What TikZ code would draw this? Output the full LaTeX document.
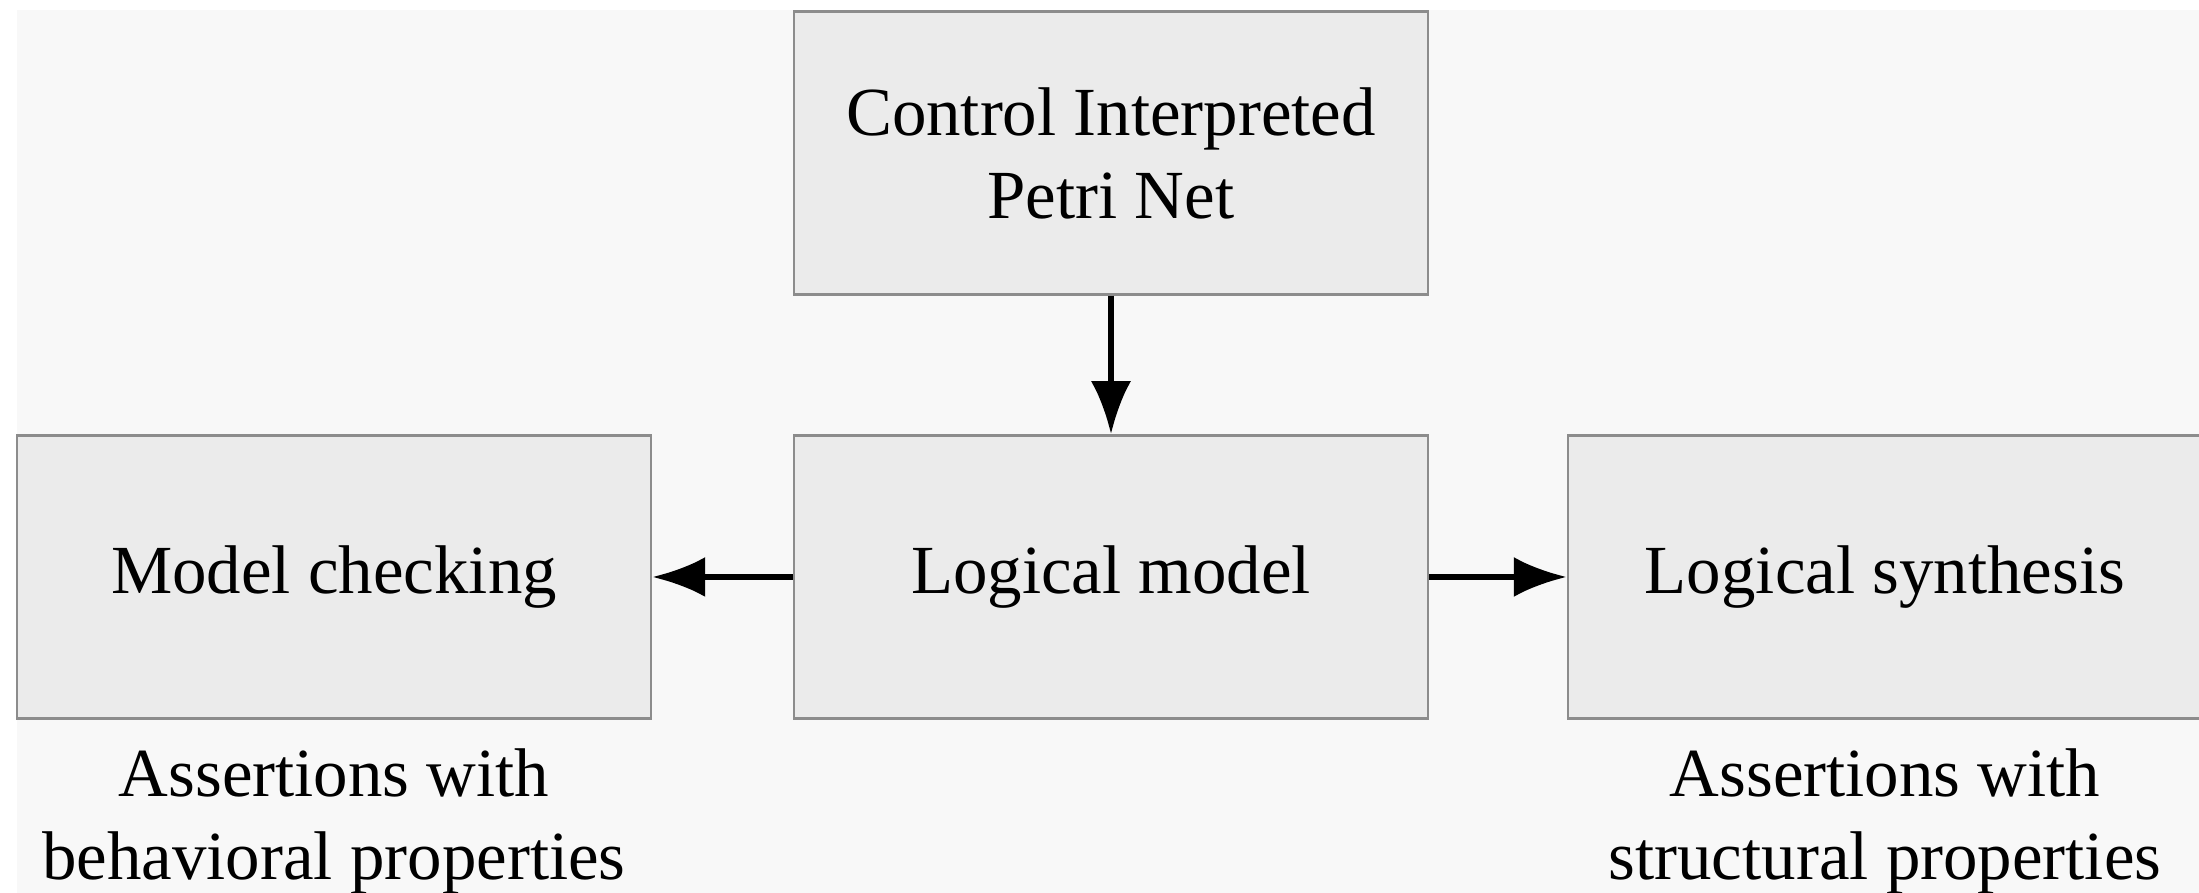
\documentclass[tikz,border=0pt]{standalone}
\usepackage{fontspec}
\setmainfont{Liberation Serif}
\usetikzlibrary{arrows.meta}
\usetikzlibrary{positioning}
\definecolor{boxfill}{HTML}{EBEBEB}
\definecolor{boxline}{HTML}{8C8C8C}
\definecolor{paper}{HTML}{F8F8F8}
\tikzstyle{bloc}=[
        rectangle,
        draw=boxline,
        line width=0.7pt,
        fill=boxfill,
        minimum width=6.34cm,
        minimum height=2.83cm,
        align=center,
        font=\fontsize{19.6}{23.6}\selectfont
]
\tikzstyle{note}=[align=center,inner sep=0pt,font=\fontsize{19.6}{23.6}\selectfont]
\tikzstyle{fleche}=[-{Latex[length=5.3mm,width=4mm]},line width=1.7pt]
\begin{document}
\begin{tikzpicture}
\useasboundingbox (0,0) rectangle (21.99,8.93);
\fill[white] (0,0) rectangle (21.99,8.93);
\fill[paper] (0.17,0) rectangle (21.99,8.83);
\node[bloc] (cipn) at (11.11,7.40) {Control Interpreted\\Petri Net};
\node[bloc] (logic) at (11.11,3.16) {Logical model};
\node[bloc] (check) at (3.34,3.16) {Model checking};
\node[bloc] (synth) at (18.85,3.16) {Logical synthesis};
\node[note,below=0.28cm of check] (behav) {Assertions with\\behavioral properties};
\node[note,below=0.28cm of synth] (struct) {Assertions with\\structural properties};
%fleches
\draw[fleche] (cipn) -- (logic);
\draw[fleche] (logic) -- (check);
\draw[fleche] (logic) -- (synth);
\end{tikzpicture}
\end{document}
